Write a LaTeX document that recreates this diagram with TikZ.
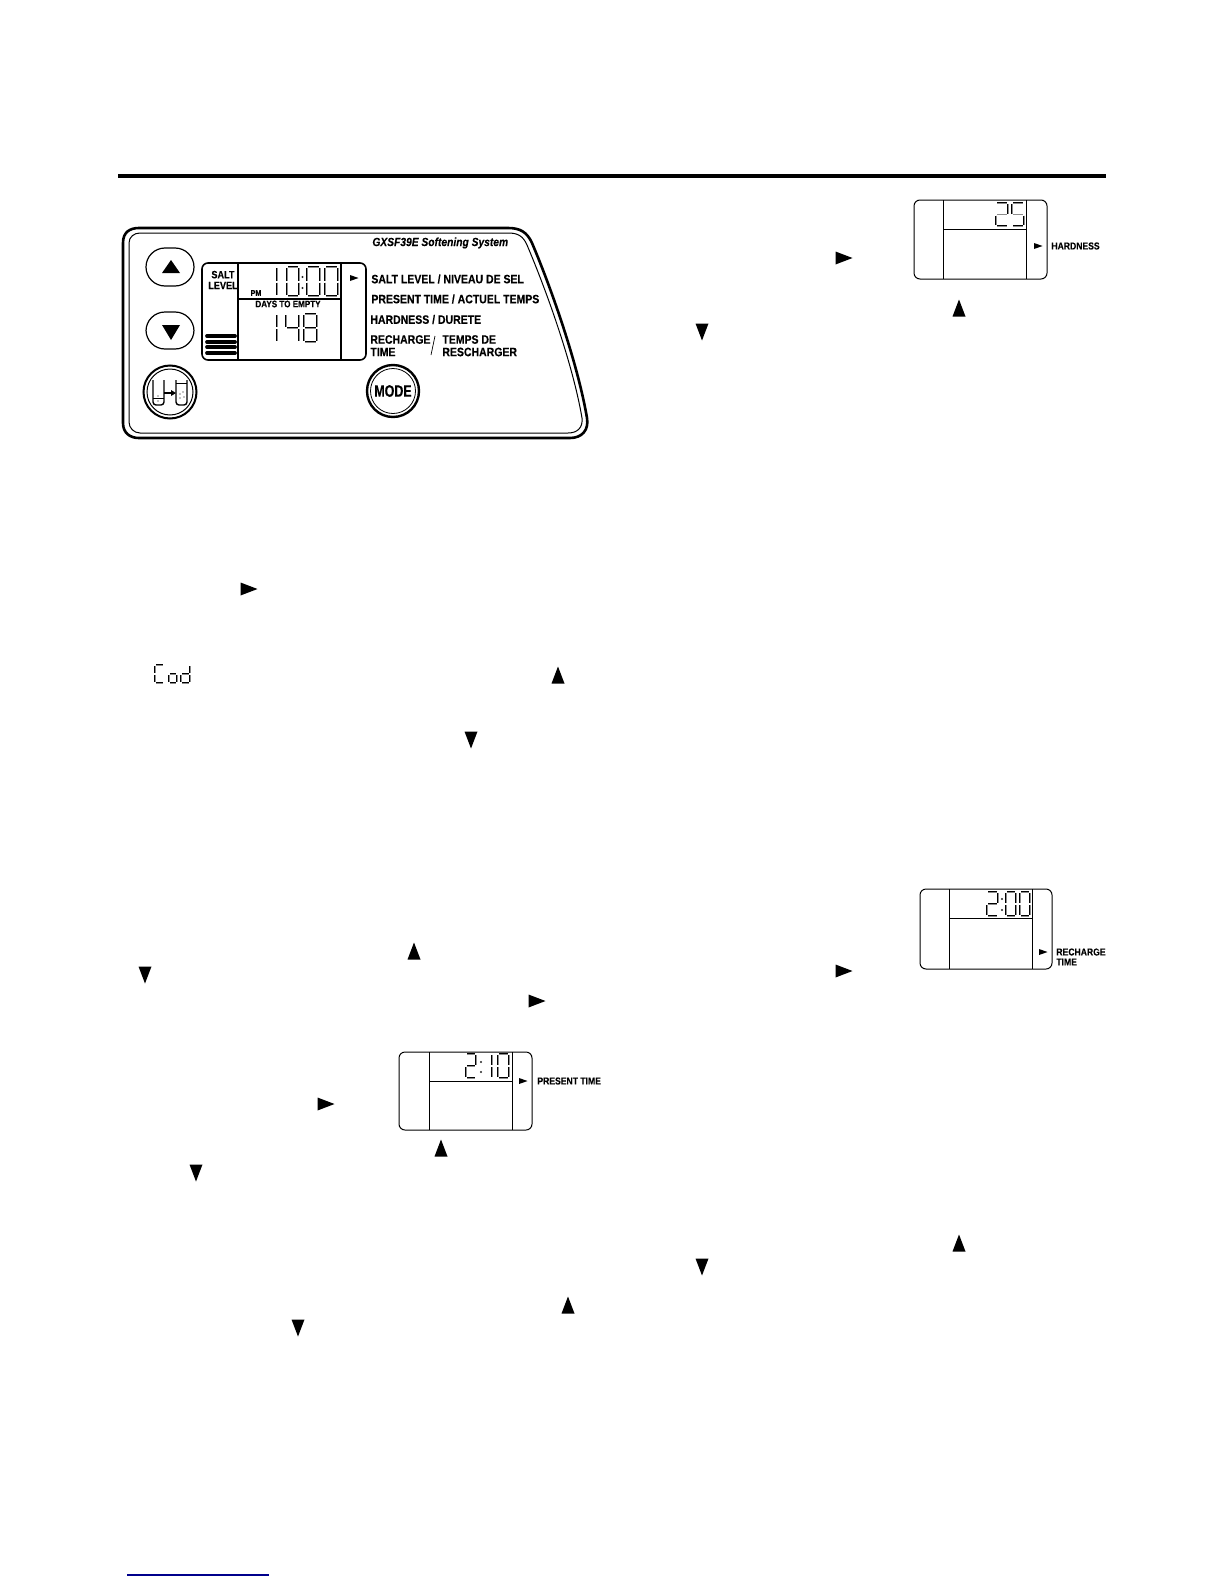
\documentclass[tikz,border=0pt]{standalone}
\usepackage{fontspec}
\setmainfont{Liberation Sans}
\newfontfamily\narrowb[FakeStretch=0.86,FakeBold=0.15]{Liberation Sans Bold}
\newfontfamily\modeb[FakeStretch=0.75,FakeBold=0.15]{Liberation Sans Bold}
\newfontfamily\narrowbi[FakeStretch=0.87,FakeBold=0.1]{Liberation Sans Bold Italic}
\tikzset{
  panelline/.style={line width=1.3pt,black},
  panelthin/.style={line width=0.5pt,black},
  lcdline/.style={line width=0.8pt,black,rounded corners=3pt},
  lcdthin/.style={line width=0.5pt,black,rounded corners=3pt},
  lcdrule/.style={line width=0.5pt,black},
  lcdseg/.style={line width=0.3pt,double=black!45,double distance=0.2pt,black,line cap=butt},
  lab/.style={inner sep=0pt,anchor=west,font=\narrowb\fontsize{6.1}{6.1}\selectfont},
  smalllab/.style={inner sep=0pt,anchor=west,font=\narrowb\fontsize{5}{5}\selectfont},
  bar/.style={line width=1.85pt,line cap=round,black},
}
% triangles, drawn at a centre point
\newcommand\triup[2]{\fill[black] (#1-6.5,#2+8.5) -- (#1+6.5,#2+8.5) -- (#1,#2-8.5) -- cycle;}
\newcommand\tridn[2]{\fill[black] (#1-6.5,#2-8.5) -- (#1+6.5,#2-8.5) -- (#1,#2+8.5) -- cycle;}
\newcommand\trirt[2]{\fill[black] (#1-8.5,#2-6.5) -- (#1-8.5,#2+6.5) -- (#1+8.5,#2) -- cycle;}
\newcommand\trism[2]{\fill[black] (#1-4,#2-3) -- (#1-4,#2+3) -- (#1+4.5,#2) -- cycle;}
% seven segments: x y w h, list of segments
\newcommand\lcdseg[5]{%
  \foreach \s in {#5}{%
    \if a\s \draw[lcdseg] (#1+1,#2) -- (#1+#3-1,#2);\fi
    \if b\s \draw[lcdseg] (#1+#3,#2+1) -- (#1+#3,#2+#4/2-1);\fi
    \if c\s \draw[lcdseg] (#1+#3,#2+#4/2+1) -- (#1+#3,#2+#4-1);\fi
    \if d\s \draw[lcdseg] (#1+1,#2+#4) -- (#1+#3-1,#2+#4);\fi
    \if e\s \draw[lcdseg] (#1,#2+#4/2+1) -- (#1,#2+#4-1);\fi
    \if f\s \draw[lcdseg] (#1,#2+1) -- (#1,#2+#4/2-1);\fi
    \if g\s \draw[lcdseg] (#1+1,#2+#4/2) -- (#1+#3-1,#2+#4/2);\fi
  }}
\newcommand\lcdcolon[3]{\fill[black!85] (#1,#2) circle (1.2); \fill[black!85] (#1,#3) circle (1.2);}
\newcommand\smalllcd[7]{% x0 y0 x1 y1 v1 v2 h
  \draw[lcdthin] (#1,#2) rectangle (#3,#4);
  \draw[lcdrule] (#5,#2) -- (#5,#4) (#6,#2) -- (#6,#4) (#5,#7) -- (#6,#7);}
\begin{document}
\begin{tikzpicture}[x=0.5pt,y=-0.5pt]
\useasboundingbox (0,0) rectangle (1224,1584);
\fill[white] (0,0) rectangle (1224,1584);
% top rule and bottom blue line
\draw[line width=2pt,black] (118,176) -- (1106,176);
\draw[line width=0.8pt,blue!55!black] (127,1575) -- (269,1575);
% panel
\draw[panelline] (123,243) .. controls (123,232) and (130,228) .. (139,228) -- (508,228)
  .. controls (520,228) and (527,232) .. (532,243)
  .. controls (552,290) and (578,365) .. (587,418)
  .. controls (589,430) and (582,438) .. (570,438) -- (139,438)
  .. controls (130,438) and (123,433) .. (123,423) -- cycle;
\draw[panelthin] (129,243) .. controls (129,237) and (134,233) .. (140,233) -- (508,233)
  .. controls (518,233) and (523,236) .. (527,245)
  .. controls (547,292) and (573,365) .. (582,418)
  .. controls (583,427) and (578,433) .. (568,433) -- (140,433)
  .. controls (134,433) and (129,428) .. (129,422) -- cycle;
\node[inner sep=0pt,anchor=west,font=\narrowbi\fontsize{5.9}{5.9}\selectfont] (title) at (372,243) {GXSF39E Softening System};
% buttons
\draw[line width=0.6pt,rounded corners=9.5pt] (146,248) rectangle (194,286);
\draw[line width=0.6pt,rounded corners=9.5pt] (146,312) rectangle (194,349);
\fill[black] (162,273) -- (180,273) -- (171,260) -- cycle;
\fill[black] (162,325) -- (180,325) -- (171,340) -- cycle;
% recharge button
\draw[line width=1pt] (170,392) circle (26.5);
\draw[line width=0.5pt] (170,392) circle (23);
\draw[line width=0.7pt,rounded corners=1.5pt] (153,380) -- (153,405) -- (164,405) -- (164,380);
\draw[line width=0.7pt,rounded corners=1.5pt] (176,380) -- (176,405) -- (187,405) -- (187,380);
\draw[line width=0.4pt] (153,398) -- (164,398) (176,383) -- (187,383);
\draw[line width=0.8pt] (164,393) -- (172,393);
\fill[black] (171,390) -- (171,396) -- (176,393) -- cycle;
\foreach \px/\py in {158/401,180/394,183/392,180/398,184/397,158/396}{\fill[black] (\px,\py) circle (0.7);}
% mode button
\draw[line width=1.2pt] (393,391) circle (26);
\draw[line width=0.4pt] (393,391) circle (22.5);
\node[inner sep=0pt,font=\modeb\fontsize{8.3}{8.3}\selectfont] (mode) at (393,391) {MODE};
% main lcd
\draw[lcdline] (202,263) rectangle (366,360);
\draw[lcdline,rounded corners=0pt] (238,263) -- (238,360) (341,263) -- (341,360) (238,299) -- (341,299);
\node[inner sep=0pt,align=center,font=\narrowb\fontsize{5.3}{5.3}\selectfont] (salt) at (223,280) {SALT\\[0.1pt]LEVEL};
\node[inner sep=0pt,font=\narrowb\fontsize{4.1}{4.1}\selectfont] (pm) at (256,293) {PM};
\node[inner sep=0pt,font=\narrowb\fontsize{4.7}{4.7}\selectfont] (days) at (288,304) {DAYS TO EMPTY};
\foreach \by in {336,342,347,353}{\draw[bar] (207,\by) -- (235,\by);}
\lcdseg{263}{267}{14}{29}{b,c}
\lcdseg{287}{267}{12}{29}{a,b,c,d,e,f}
\lcdcolon{302.5}{277}{288}
\lcdseg{307}{267}{13}{29}{a,b,c,d,e,f}
\lcdseg{325}{267}{13}{29}{a,b,c,d,e,f}
\lcdseg{263}{314}{14}{28}{b,c}
\lcdseg{286}{314}{13}{28}{f,g,b,c}
\lcdseg{304}{314}{13}{28}{a,b,c,d,e,f,g}
\trism{354}{278}
\node[lab] (l1) at (371,279) {SALT LEVEL / NIVEAU DE SEL};
\node[lab] (l2) at (371,299) {PRESENT TIME / ACTUEL TEMPS};
\node[lab] (l3) at (370,319.5) {HARDNESS / DURETE};
\node[lab] (l4) at (370,339.5) {RECHARGE};
\node[lab] (l5) at (370,352) {TIME};
\node[lab] (l6) at (442,339.5) {TEMPS DE};
\node[lab] (l7) at (442,352) {RESCHARGER};
\draw[line width=0.35pt] (435,336) -- (431,355);
% hardness lcd
\smalllcd{914}{200}{1047}{279}{943}{1026}{229}
\lcdseg{996}{203}{12}{23}{a,b,g,e,d}
\lcdseg{1012}{203}{12}{23}{a,f,g,c,d}
\trism{1038}{246}
\node[smalllab] (hard) at (1051,246) {HARDNESS};
% recharge lcd
\smalllcd{920}{889}{1052}{969}{949}{1032}{918}
\lcdseg{987}{892}{11}{24}{a,b,g,e,d}
\lcdcolon{1002}{899}{910}
\lcdseg{1006}{892}{10}{24}{a,b,c,d,e,f}
\lcdseg{1020}{892}{10}{24}{a,b,c,d,e,f}
\trism{1043}{952}
\node[smalllab] (rc1) at (1056,952) {RECHARGE};
\node[smalllab] (rc2) at (1056,962) {TIME};
% present time lcd
\smalllcd{399}{1052}{532}{1130}{429}{512}{1081}
\lcdseg{466}{1054}{10}{24}{a,b,g,e,d}
\lcdcolon{481}{1062}{1072}
\lcdseg{485}{1054}{7}{24}{b,c}
\lcdseg{498}{1054}{11}{24}{a,b,c,d,e,f}
\trism{523}{1081}
\node[smalllab] (pt) at (537,1081) {PRESENT TIME};
% Cod
\lcdseg{155}{665}{9}{18}{a,f,e,d}
\lcdseg{169}{665}{8}{18}{c,d,e,g}
\lcdseg{181}{665}{9}{18}{b,c,d,e,g}
% loose triangles
\trirt{249}{589}
\trirt{844}{258}
\trirt{844}{971}
\trirt{537}{1001}
\trirt{326}{1104}
\triup{558}{675}
\triup{959}{308}
\triup{414}{951}
\triup{441}{1148}
\triup{959}{1243}
\triup{568}{1305}
\tridn{702}{332}
\tridn{471}{740}
\tridn{145}{975}
\tridn{196}{1173}
\tridn{702}{1267}
\tridn{298}{1328}
\end{tikzpicture}
\end{document}
